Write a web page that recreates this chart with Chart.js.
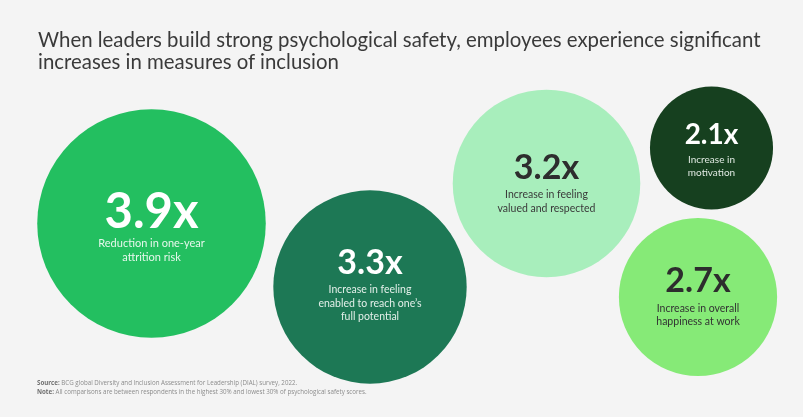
<!DOCTYPE html>
<html>
<head>
<meta charset="utf-8">
<script src="https://cdn.jsdelivr.net/npm/chart.js@4/dist/chart.umd.min.js"></script>
<style>
  html, body { margin: 0; padding: 0; background: #f4f4f4; }
  #wrap { position: relative; width: 803px; height: 417px; overflow: hidden; background: #f4f4f4; }
  #title { position: absolute; left: 38px; top: 27.5px; font-family: Lato, sans-serif; font-size: 20.4px; line-height: 22.5px; color: #3a3a3a; white-space: nowrap; }
  #foot { position: absolute; left: 37px; top: 378px; font-family: "Open Sans", sans-serif; font-size: 6.2px; line-height: 9px; color: #8c8c8c; white-space: nowrap; }
  #foot b { color: #6e6e6e; font-weight: 700; }
  canvas { position: absolute; left: 0; top: 0; }
</style>
</head>
<body>
<div id="wrap">
  <canvas id="c" width="803" height="417"></canvas>
  <div id="title">When leaders build strong psychological safety, employees experience significant<br>increases in measures of inclusion</div>
  <div id="foot"><b>Source:</b> BCG global Diversity and Inclusion Assessment for Leadership (DIAL) survey, 2022.<br><b>Note:</b> All comparisons are between respondents in the highest 30% and lowest 30% of psychological safety scores.</div>
</div>
<script>
// ---- data ----
const categories = [
  "Reduction in one-year attrition risk",
  "Increase in feeling enabled to reach one's full potential",
  "Increase in feeling valued and respected",
  "Increase in motivation",
  "Increase in overall happiness at work"
];
const multipliers = [3.9, 3.3, 3.2, 2.1, 2.7];
const valueLabels = ["3.9x", "3.3x", "3.2x", "2.1x", "2.7x"];
const labelLines = [
  ["Reduction in one-year", "attrition risk"],
  ["Increase in feeling", "enabled to reach one\u2019s", "full potential"],
  ["Increase in feeling", "valued and respected"],
  ["Increase in", "motivation"],
  ["Increase in overall", "happiness at work"]
];
// bubble placement on hidden layout axes
const xPos = [151.5, 370, 546.5, 711.5, 698];
const yPos = [223.5, 287, 183.5, 148, 297];

// ---- styles ----
const PX_PER_UNIT = 29.3;
const fillColors = ["#23bf60", "#1d7855", "#a8eebc", "#16401f", "#86ea77"];
const textColors = ["#ffffff", "#ffffff", "#2d2d2d", "#ffffff", "#2d2d2d"];
const subColors  = ["#e6f7ec", "#e3efe9", "#3a3a3a", "#dfe8e1", "#333333"];
const numberSizes = [49, 34, 34, 28, 34];
const labelSizes  = [11, 10.5, 10.5, 10, 10.5];
const textShift   = [3.5, -2, 0, 2.5, 0];

const labelPlugin = {
  id: 'bubbleLabels',
  afterDatasetsDraw(chart) {
    const ctx = chart.ctx;
    const meta = chart.getDatasetMeta(0);
    meta.data.forEach((el, i) => {
      const cx = el.x, cy = el.y + textShift[i];
      const ns = numberSizes[i], ls = labelSizes[i];
      const cap = ns * 0.72;
      const gap = 16;
      const lh = 13.3;
      const lines = labelLines[i];
      const blockH = cap + gap + (lines.length - 1) * lh + ls * 0.4;
      const top = cy - blockH / 2;
      const base = top + cap;
      ctx.save();
      ctx.textAlign = 'center';
      ctx.textBaseline = 'alphabetic';
      ctx.fillStyle = textColors[i];
      ctx.font = `bold ${ns}px Lato, sans-serif`;
      ctx.fillText(valueLabels[i], cx, base);
      ctx.font = `${ls}px Lato, sans-serif`;
      ctx.fillStyle = subColors[i];
      ctx.textBaseline = 'middle';
      lines.forEach((t, j) => ctx.fillText(t, cx, base + gap + j * lh));
      ctx.restore();
    });
  }
};

new Chart(document.getElementById('c'), {
  type: 'bubble',
  data: {
    labels: categories,
    datasets: [{
      data: multipliers.map((v, i) => ({ x: xPos[i], y: yPos[i], r: v * PX_PER_UNIT })),
      backgroundColor: fillColors,
      borderWidth: 0,
      hoverBorderWidth: 0,
      clip: false
    }]
  },
  options: {
    responsive: false,
    animation: false,
    events: [],
    layout: { padding: 0, autoPadding: false },
    plugins: { legend: { display: false }, tooltip: { enabled: false } },
    scales: {
      x: { type: 'linear', min: 0, max: 803, display: false },
      y: { type: 'linear', min: 0, max: 417, reverse: true, display: false }
    }
  },
  plugins: [labelPlugin]
});
</script>
</body>
</html>
